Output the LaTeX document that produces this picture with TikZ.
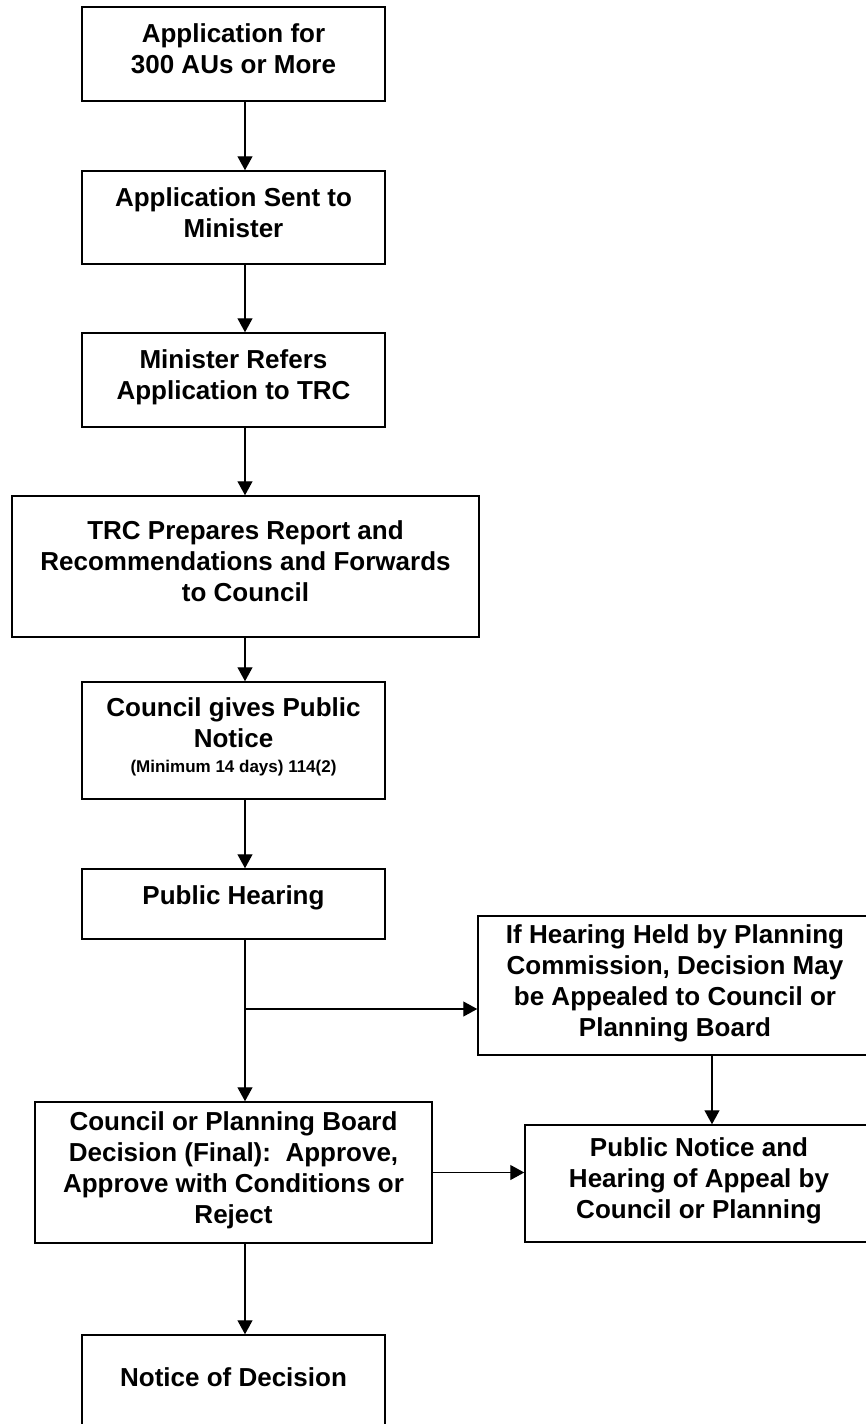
\documentclass[tikz,border=0pt]{standalone}
\usepackage{fontspec}
\setmainfont{Liberation Sans}
\usepackage{tikz}
\usetikzlibrary{arrows.meta,calc}
\tikzset{
  box/.style={draw, line width=0.75pt, align=center, inner sep=2pt, text depth=5pt,
    font=\fontsize{13pt}{15.5pt}\selectfont\bfseries},
  colBox/.style={box, minimum width=151.5pt},   % boxes of the main column
  flowArrow/.style={-{Triangle[length=7pt,width=7.5pt]}, line width=0.65pt}
}
\newcommand{\SmallNote}[1]{{\fontsize{8.5pt}{10pt}\selectfont #1}}

\begin{document}
\begin{tikzpicture}[x=0.5pt,y=-0.5pt]
  \useasboundingbox (0,0) rectangle (866,1424);
  \clip (0,0) rectangle (866,1424);
  % main column
  \node[colBox, minimum height=47pt] (apply) at (233.5,54) {Application for\\300 AUs or More};
  \node[colBox, minimum height=46.5pt] (sent) at (233.5,217.5) {Application Sent to\\Minister};
  \node[colBox, minimum height=47pt] (refer) at (233.5,380) {Minister Refers\\Application to TRC};
  \node[box, minimum width=233.5pt, minimum height=70.5pt] (report) at (245.5,566.5)
    {TRC Prepares Report and\\Recommendations and Forwards\\to Council};
  \node[colBox, minimum height=58.5pt] (notice) at (233.5,740.5)
    {Council gives Public\\Notice\\[-3pt]\SmallNote{(Minimum 14 days) 114(2)}};
  \node[colBox, minimum height=35pt, text depth=8.5pt] (hearing) at (233.5,904) {Public Hearing};
  \node[box, minimum width=198.5pt, minimum height=70.5pt] (decision) at (233.5,1172.5)
    {Council or Planning Board\\Decision (Final):\ \ Approve,\\Approve with Conditions or\\Reject};
  \node[colBox, minimum height=57.5pt, text depth=15pt] (outcome) at (233.5,1392.5) {Notice of Decision};
  % appeal branch
  \node[box, minimum width=197pt, minimum height=69.5pt] (appeal) at (675,985.5)
    {If Hearing Held by Planning\\Commission, Decision May\\be Appealed to Council or\\Planning Board};
  \node[box, minimum width=174pt, minimum height=58.5pt] (appealHear) at (699,1183.5)
    {Public Notice and\\Hearing of Appeal by\\Council or Planning};
  % connectors
  \coordinate (spine) at (245,0);
  \foreach \a/\b in {apply/sent, sent/refer, refer/report, report/notice,
                     notice/hearing, hearing/decision, decision/outcome}
    \draw[flowArrow] (\a.south -| spine) -- (\b.north -| spine);
  \coordinate (fork) at (245,1009);
  \draw[flowArrow] (fork) -- (fork -| appeal.west);
  \coordinate (drop) at (712,0);
  \draw[flowArrow] (appeal.south -| drop) -- (appealHear.north -| drop);
  \draw[flowArrow] (decision.east) -- (decision.east -| appealHear.west);
\end{tikzpicture}
\end{document}
